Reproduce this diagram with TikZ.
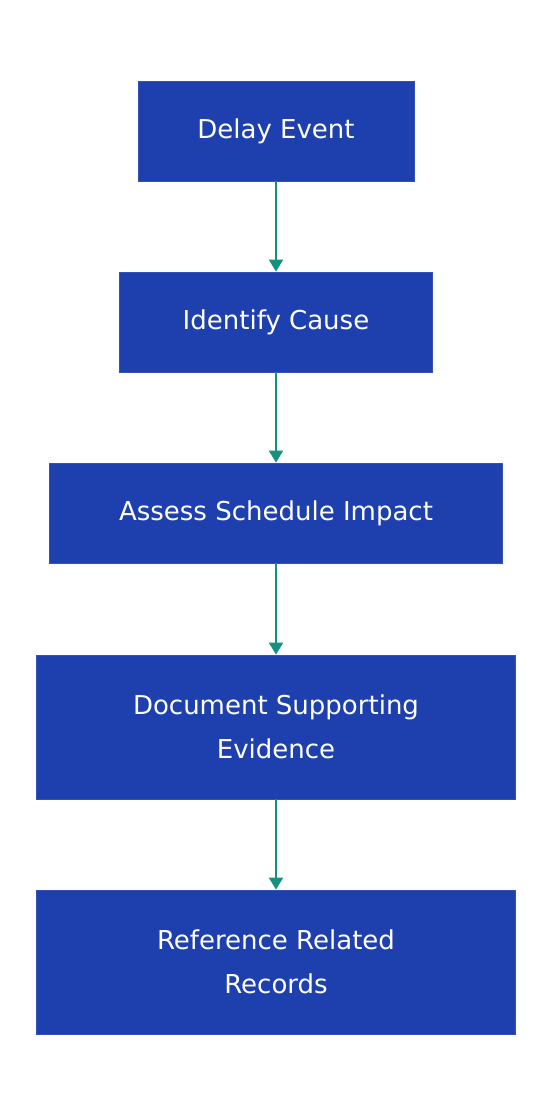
\documentclass[tikz,border=0pt]{standalone}
\usepackage{fontspec}
\setmainfont{DejaVu Sans}
\usetikzlibrary{arrows.meta}
\definecolor{boxblue}{HTML}{1E40AF}
\definecolor{boxline}{HTML}{3450B8}
\definecolor{flowteal}{HTML}{14917F}
\begin{document}
\begin{tikzpicture}[x=1pt,y=-1pt,
  stepbox/.style={draw=boxline,line width=.8pt,fill=boxblue,text=white,
    font=\fontsize{26}{44}\selectfont,align=center,inner sep=0pt},
  flow/.style={draw=flowteal,line width=2pt,
    -{Triangle[length=12pt,width=14pt]}}]
\useasboundingbox (0,0) rectangle (552,1116);
%
\node[stepbox,minimum width=276pt,minimum height=100pt] (delay) at (276,131) {Delay Event};
\node[stepbox,minimum width=313pt,minimum height=100pt] (cause) at (276,322) {Identify Cause};
\node[stepbox,minimum width=453pt,minimum height=100pt] (impact) at (276,513) {Assess Schedule Impact};
\node[stepbox,minimum width=479pt,minimum height=144pt] (evidence) at (276,727) {Document Supporting\\Evidence};
\node[stepbox,minimum width=479pt,minimum height=144pt] (records) at (276,962) {Reference Related\\Records};
%
\draw[flow] (delay.south) -- (cause.north);
\draw[flow] (cause.south) -- (impact.north);
\draw[flow] (impact.south) -- (evidence.north);
\draw[flow] (evidence.south) -- (records.north);
\end{tikzpicture}
\end{document}
